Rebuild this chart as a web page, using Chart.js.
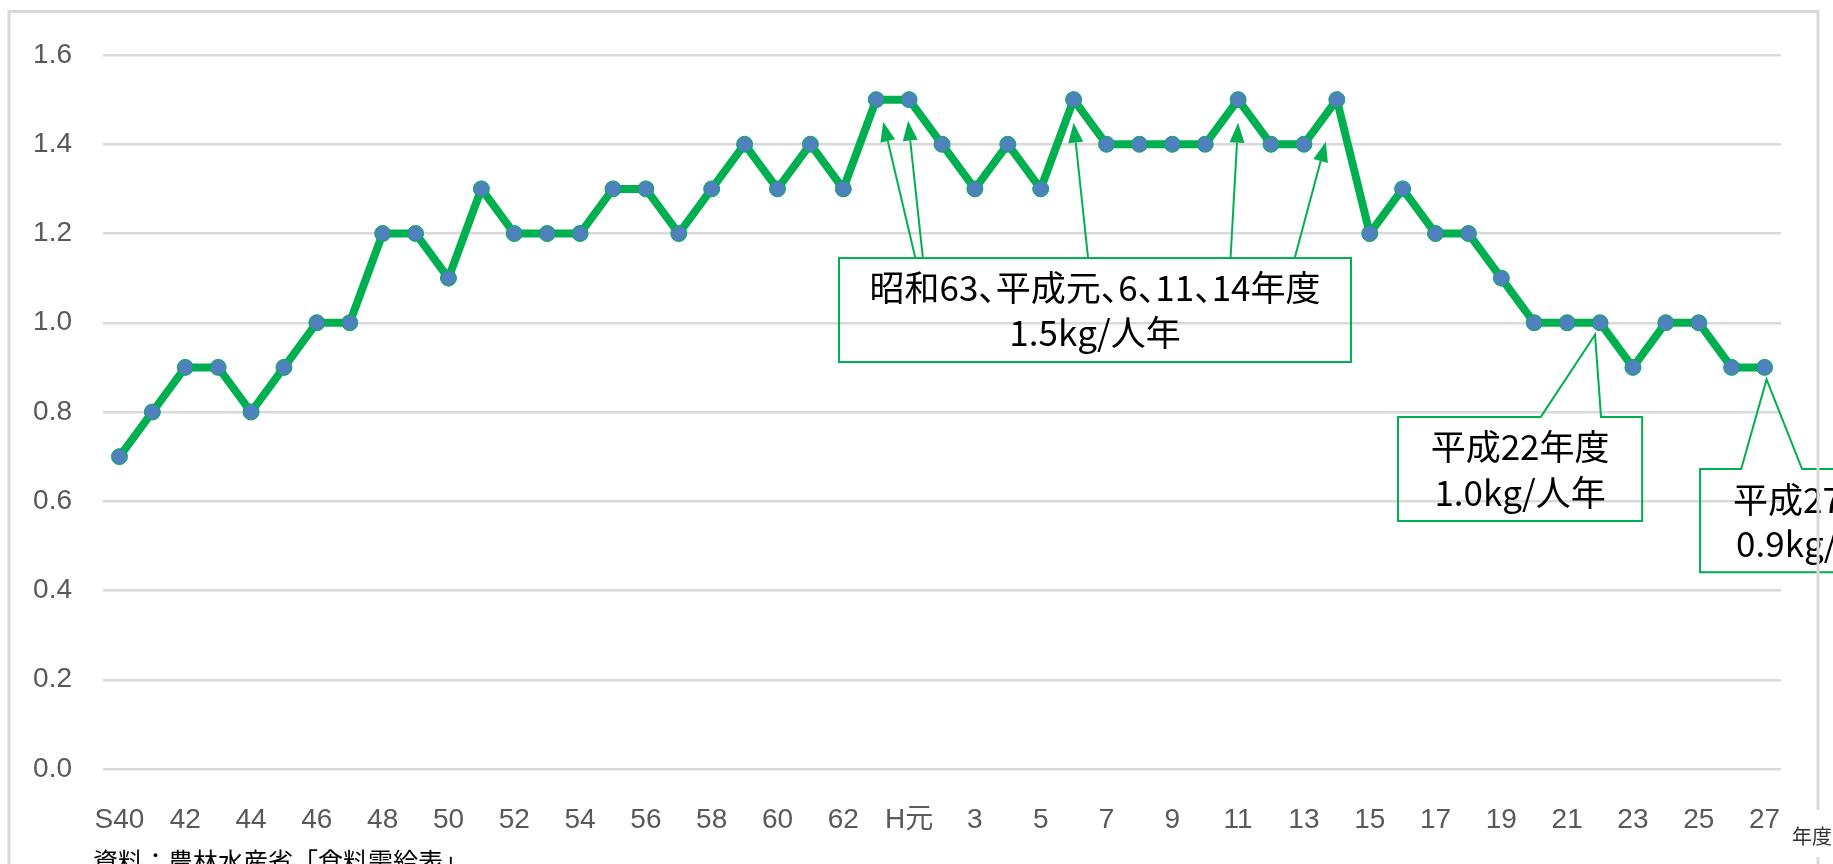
<!DOCTYPE html>
<html>
<head>
<meta charset="utf-8">
<script src="https://cdn.jsdelivr.net/npm/chart.js@4.4.1/dist/chart.umd.min.js"></script>
<style>
  html, body { margin: 0; padding: 0; background: #fff; overflow: hidden; }
</style>
</head>
<body>
<canvas id="chart" width="1833" height="864"></canvas>
<script>
// --- data ---
const categories = [
  'S40', '41', '42', '43', '44', '45', '46', '47', '48', '49', '50', '51',
  '52', '53', '54', '55', '56', '57', '58', '59', '60', '61', '62', '63',
  'H元', '2', '3', '4', '5', '6', '7', '8', '9', '10', '11', '12', '13',
  '14', '15', '16', '17', '18', '19', '20', '21', '22', '23', '24', '25', '26', '27'
];
const values = [
  0.7, 0.8, 0.9, 0.9, 0.8, 0.9, 1.0, 1.0, 1.2, 1.2, 1.1, 1.3,
  1.2, 1.2, 1.2, 1.3, 1.3, 1.2, 1.3, 1.4, 1.3, 1.4, 1.3, 1.5,
  1.5, 1.4, 1.3, 1.4, 1.3, 1.5, 1.4, 1.4, 1.4, 1.4, 1.5, 1.4, 1.4,
  1.5, 1.2, 1.3, 1.2, 1.2, 1.1, 1.0, 1.0, 1.0, 0.9, 1.0, 1.0, 0.9, 0.9
];
const yMin = 0, yMax = 1.6, yStep = 0.2;

const noteMain = ['昭和63、平成元、6、11、14年度', '1.5kg/人年'];
const note22 = ['平成22年度', '1.0kg/人年'];
const note27 = ['平成27年度', '0.9kg/人年'];
const unitLabel = '年度';
const sourceLabel = '資料：農林水産省「食料需給表」';

const GREEN = '#00b050';
const BLUE = '#4f81bd';
const GRID = '#d9d9d9';
const CJK = '"Noto Sans CJK JP", "Noto Sans", sans-serif';

// narrow font for the axis digits if it is there
function hasFont(name) {
  const c = document.createElement('canvas').getContext('2d');
  c.font = '40px monospace';
  const a = c.measureText('0123456789S').width;
  c.font = '40px "' + name + '", monospace';
  return c.measureText('0123456789S').width !== a;
}
const tickFont = hasFont('Liberation Sans Narrow')
  ? { family: '"Liberation Sans Narrow", "Noto Sans CJK JP"', size: 32 }
  : { family: '"Liberation Sans", "Noto Sans CJK JP"', size: 28 };

// text with half-width 、
function cjkText(ctx, str, x, y, align) {
  const chars = [...str];
  const w = ch => ctx.measureText(ch).width * (ch === '、' ? 0.5 : 1);
  const total = chars.reduce((s, ch) => s + w(ch), 0);
  let cx = align === 'center' ? x - total / 2 : x;
  ctx.textAlign = 'left';
  chars.forEach(ch => { ctx.fillText(ch, cx, y); cx += w(ch); });
}

function arrow(ctx, x0, y0, x1, y1) {
  const ang = Math.atan2(y1 - y0, x1 - x0);
  const len = 20, half = 7.5;
  const bx = x1 - Math.cos(ang) * len, by = y1 - Math.sin(ang) * len;
  ctx.beginPath();
  ctx.moveTo(x0, y0);
  ctx.lineTo(bx, by);
  ctx.stroke();
  ctx.beginPath();
  ctx.moveTo(x1, y1);
  ctx.lineTo(bx + Math.sin(ang) * half, by - Math.cos(ang) * half);
  ctx.lineTo(bx - Math.sin(ang) * half, by + Math.cos(ang) * half);
  ctx.closePath();
  ctx.fill();
}

// --- callouts, placed in scale units ---
const callouts = {
  id: 'callouts',
  afterDatasetsDraw(chart) {
    const { ctx, scales: { x, y } } = chart;
    const px = i => x.getPixelForValue(i);
    const py = v => y.getPixelForValue(v);
    ctx.save();
    ctx.strokeStyle = GREEN;
    ctx.fillStyle = GREEN;
    ctx.lineWidth = 2;

    // box with arrows
    const l1 = px(21.87), r1 = px(37.43), t1 = py(1.145), b1 = py(0.912);
    ctx.strokeRect(l1, t1, r1 - l1, b1 - t1);
    [[24.19, 23, 7, 22], [24.42, 24, -1, 21], [29.44, 29, 0, 23],
     [33.77, 34, 0, 23], [35.72, 37, -11, 42]].forEach(([sx, idx, dx, dy]) => {
      arrow(ctx, px(sx), t1, px(idx) + dx, py(values[idx]) + dy);
    });

    // wedge boxes
    function wedgeBox(l, r, t, b, wl, wr, tipX, tipY) {
      ctx.beginPath();
      ctx.moveTo(wl, t);
      ctx.lineTo(l, t);
      ctx.lineTo(l, b);
      ctx.lineTo(r, b);
      ctx.lineTo(r, t);
      ctx.lineTo(wr, t);
      ctx.lineTo(tipX, tipY);
      ctx.closePath();
      ctx.stroke();
    }
    const l2 = px(38.86), r2 = px(46.28), t2 = py(0.789), b2 = py(0.556);
    wedgeBox(l2, r2, t2, b2, px(43.2), px(45.03), px(45) - 5, py(values[45]) + 12);
    const l3 = px(48.04), r3 = px(57.2), t3 = py(0.672), b3 = py(0.441);
    wedgeBox(l3, r3, t3, b3, px(49.29), px(51.14), px(50) + 2, py(values[50]) + 12);

    ctx.fillStyle = '#000';
    ctx.font = '35px ' + CJK;
    ctx.textBaseline = 'middle';
    cjkText(ctx, noteMain[0], (l1 + r1) / 2, t1 + 30, 'center');
    cjkText(ctx, noteMain[1], (l1 + r1) / 2, t1 + 75, 'center');
    cjkText(ctx, note22[0], (l2 + r2) / 2, t2 + 30, 'center');
    cjkText(ctx, note22[1], (l2 + r2) / 2, t2 + 76, 'center');
    cjkText(ctx, note27[0], l3 + 33, t3 + 31, 'left');
    cjkText(ctx, note27[1], l3 + 36, t3 + 75, 'left');
    ctx.restore();
  },
  afterDraw(chart) {
    const { ctx } = chart;
    ctx.save();
    // outer frame
    ctx.strokeStyle = GRID;
    ctx.lineWidth = 3;
    ctx.strokeRect(9, 11.5, 1809, 900);
    ctx.fillStyle = '#fff';
    ctx.fillRect(1808, 810, 20, 47);
    ctx.fillStyle = '#333';
    ctx.font = '20px ' + CJK;
    ctx.textAlign = 'center';
    ctx.textBaseline = 'middle';
    ctx.fillText(unitLabel, 1812, 836);
    ctx.fillStyle = '#000';
    ctx.font = '25px ' + CJK;
    ctx.textAlign = 'left';
    ctx.textBaseline = 'alphabetic';
    ctx.fillText(sourceLabel, 93, 871);
    ctx.restore();
  }
};

new Chart(document.getElementById('chart'), {
  type: 'line',
  data: {
    labels: categories,
    datasets: [{
      data: values,
      borderColor: GREEN,
      borderWidth: 8,
      tension: 0,
      fill: false,
      pointRadius: 8,
      pointBackgroundColor: BLUE,
      pointBorderColor: GREEN,
      pointBorderWidth: 1
    }]
  },
  options: {
    responsive: false,
    animation: false,
    layout: { padding: { left: 0, right: 52, top: 55, bottom: 0 } },
    plugins: { legend: { display: false }, tooltip: { enabled: false } },
    scales: {
      x: {
        offset: true,
        grid: { display: false },
        border: { display: false },
        afterFit: s => { s.height = 95; },
        ticks: {
          autoSkip: false,
          maxRotation: 0,
          padding: 26,
          color: '#595959',
          font: tickFont,
          callback: (v, i) => (i % 2 === 0 ? categories[i] : '')
        }
      },
      y: {
        min: yMin,
        max: yMax,
        grid: { color: GRID, lineWidth: 2.5, drawTicks: false },
        border: { display: false },
        afterFit: s => { s.width = 103; },
        ticks: {
          stepSize: yStep,
          padding: 31,
          color: '#595959',
          font: tickFont,
          callback: v => v.toFixed(1)
        }
      }
    }
  },
  plugins: [callouts]
});
</script>
</body>
</html>
